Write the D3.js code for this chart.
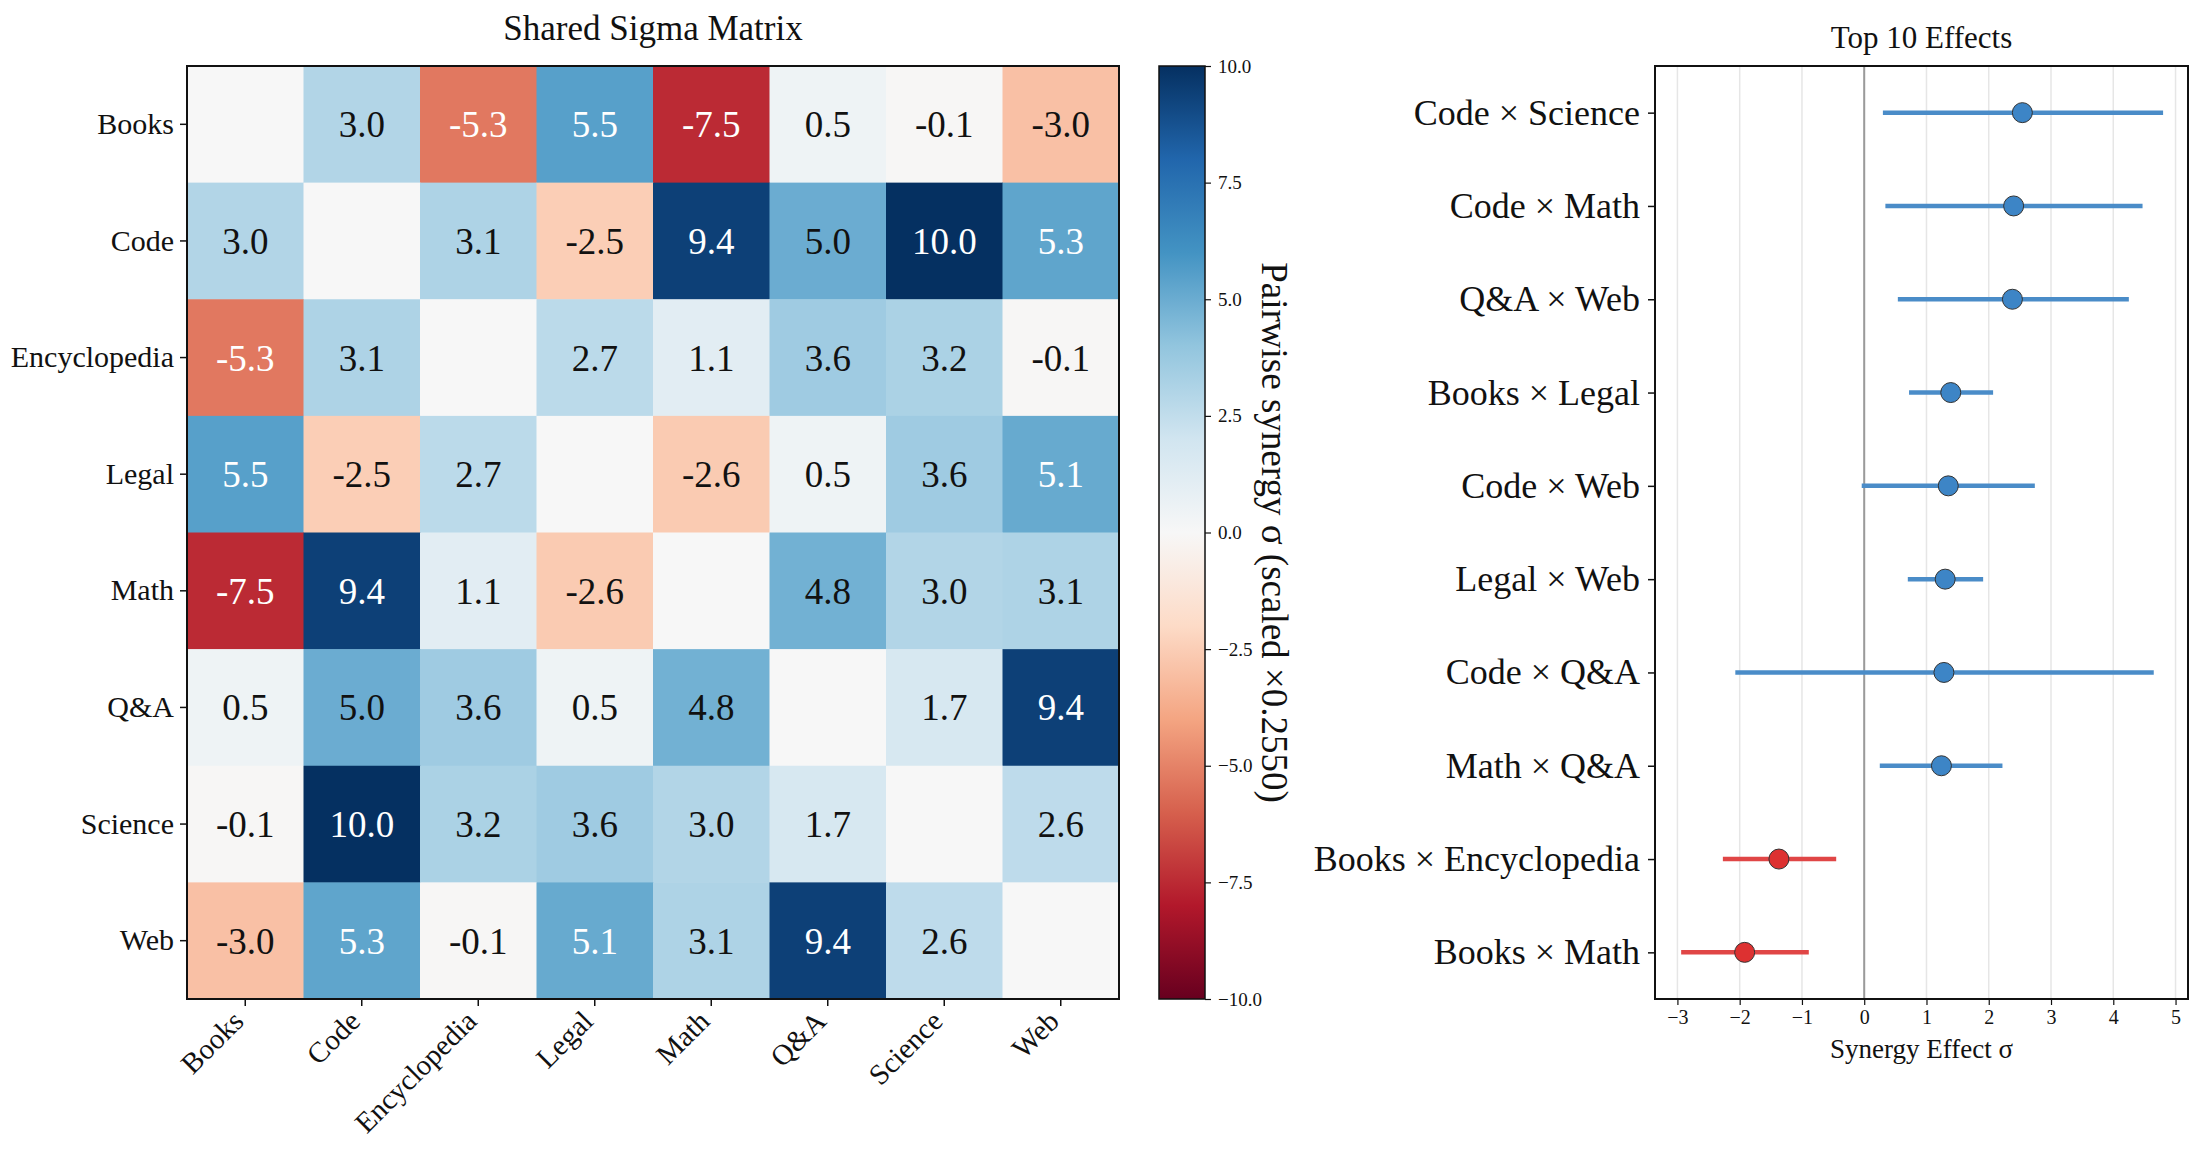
<!DOCTYPE html>
<html>
<head>
<meta charset="utf-8">
<script src="https://cdn.jsdelivr.net/npm/d3@7"></script>
<style>
  body { margin: 0; background: #fff; }
  text { font-family: "Liberation Serif", "DejaVu Serif", serif; fill: #111; }
</style>
</head>
<body>
<svg id="chart" width="2200" height="1158"></svg>
<script>
// data
var categories = ["Books", "Code", "Encyclopedia", "Legal", "Math", "Q&A", "Science", "Web"];
var sigmaRows = [
  [0.0, 3.0, -5.3, 5.5, -7.5, 0.5, -0.1, -3.0],
  [3.0, 0.0, 3.1, -2.5, 9.4, 5.0, 10.0, 5.3],
  [-5.3, 3.1, 0.0, 2.7, 1.1, 3.6, 3.2, -0.1],
  [5.5, -2.5, 2.7, 0.0, -2.6, 0.5, 3.6, 5.1],
  [-7.5, 9.4, 1.1, -2.6, 0.0, 4.8, 3.0, 3.1],
  [0.5, 5.0, 3.6, 0.5, 4.8, 0.0, 1.7, 9.4],
  [-0.1, 10.0, 3.2, 3.6, 3.0, 1.7, 0.0, 2.6],
  [-3.0, 5.3, -0.1, 5.1, 3.1, 9.4, 2.6, 0.0]
];
var colorbarTicks = [-10, -7.5, -5, -2.5, 0, 2.5, 5, 7.5, 10];

var effectLabels = ["Code × Science", "Code × Math", "Q&A × Web", "Books × Legal", "Code × Web",
                    "Legal × Web", "Code × Q&A", "Math × Q&A", "Books × Encyclopedia", "Books × Math"];
var effectMeans = [2.54, 2.40, 2.38, 1.39, 1.35, 1.30, 1.28, 1.24, -1.37, -1.92];
var effectLow   = [0.30, 0.34, 0.54, 0.72, -0.04, 0.70, -2.07, 0.25, -2.27, -2.94];
var effectHigh  = [4.80, 4.47, 4.25, 2.07, 2.74, 1.91, 4.65, 2.22, -0.45, -0.89];
var effectTicks = [-3, -2, -1, 0, 1, 2, 3, 4, 5];

// ColorBrewer RdBu, linearly interpolated like matplotlib
var rdbu = ["#67001f", "#b2182b", "#d6604d", "#f4a582", "#fddbc7", "#f7f7f7",
            "#d1e5f0", "#92c5de", "#4393c3", "#2166ac", "#053061"];

var svg = d3.select("#chart");
var fmtMinus = function(s) { return s.replace("-", "\u2212"); };

// ---------- heatmap ----------
var hm = {left: 187, top: 66, right: 1119, bottom: 999};
var x = d3.scaleBand().domain(categories).range([hm.left, hm.right]);
var y = d3.scaleBand().domain(categories).range([hm.top, hm.bottom]);
var color = d3.scaleLinear()
    .domain(d3.range(rdbu.length).map(function(i) { return -10 + 20 * i / (rdbu.length - 1); }))
    .range(rdbu)
    .interpolate(d3.interpolateRgb)
    .clamp(true);

var cells = [];
sigmaRows.forEach(function(row, i) {
  row.forEach(function(v, j) {
    cells.push({r: categories[i], c: categories[j], v: v, diag: i === j});
  });
});

var g = svg.append("g");
g.selectAll("rect.cell")
    .data(cells)
    .enter().append("rect")
    .attr("class", "cell")
    .attr("x", function(d) { return x(d.c); })
    .attr("y", function(d) { return y(d.r); })
    .attr("width", x.bandwidth() + 0.5)
    .attr("height", y.bandwidth() + 0.5)
    .attr("fill", function(d) { return color(d.v); });

g.selectAll("text.val")
    .data(cells.filter(function(d) { return !d.diag; }))
    .enter().append("text")
    .attr("class", "val")
    .attr("x", function(d) { return x(d.c) + x.bandwidth() / 2; })
    .attr("y", function(d) { return y(d.r) + y.bandwidth() / 2; })
    .attr("text-anchor", "middle")
    .attr("dy", "0.35em")
    .style("font-size", "37px")
    .style("fill", function(d) { return Math.abs(d.v) > 5 ? "#fff" : "#111"; })
    .text(function(d) { return d.v.toFixed(1); });

g.append("rect")
    .attr("x", hm.left).attr("y", hm.top)
    .attr("width", hm.right - hm.left).attr("height", hm.bottom - hm.top)
    .attr("fill", "none").attr("stroke", "#111").attr("stroke-width", 2);

// y axis of heatmap
var yAxis = g.append("g")
    .attr("transform", "translate(" + hm.left + ",0)")
    .call(d3.axisLeft(y).tickSize(7).tickPadding(6));
yAxis.select(".domain").remove();
yAxis.selectAll("line").attr("stroke", "#111").attr("stroke-width", 1.5);
yAxis.selectAll("text").style("font-size", "30px").style("font-family", "Liberation Serif").attr("fill", "#111");

// x axis of heatmap, rotated labels
var xAxis = g.append("g")
    .attr("transform", "translate(0," + hm.bottom + ")")
    .call(d3.axisBottom(x).tickSize(7));
xAxis.select(".domain").remove();
xAxis.selectAll("line").attr("stroke", "#111").attr("stroke-width", 1.5);
xAxis.selectAll("text")
    .style("font-size", "29px").style("font-family", "Liberation Serif").attr("fill", "#111")
    .attr("text-anchor", "end")
    .attr("dy", null)
    .attr("y", null)
    .attr("transform", "translate(0,24) rotate(-45)");

svg.append("text")
    .attr("x", (hm.left + hm.right) / 2)
    .attr("y", 40)
    .attr("text-anchor", "middle")
    .style("font-size", "35px")
    .text("Shared Sigma Matrix");

// ---------- colorbar ----------
var cb = {left: 1159, right: 1205, top: 66, bottom: 999};
var cy = d3.scaleLinear().domain([-10, 10]).range([cb.bottom, cb.top]);
var grad = svg.append("defs").append("linearGradient")
    .attr("id", "cbgrad").attr("x1", 0).attr("y1", 1).attr("x2", 0).attr("y2", 0);
color.domain().forEach(function(v) {
  grad.append("stop").attr("offset", (v + 10) / 20).attr("stop-color", color(v));
});
svg.append("rect")
    .attr("x", cb.left).attr("y", cb.top)
    .attr("width", cb.right - cb.left).attr("height", cb.bottom - cb.top)
    .attr("fill", "url(#cbgrad)")
    .attr("stroke", "#111").attr("stroke-width", 1.5);
var cAxis = svg.append("g")
    .attr("transform", "translate(" + cb.right + ",0)")
    .call(d3.axisRight(cy).tickValues(colorbarTicks).tickSize(6).tickPadding(7)
      .tickFormat(function(d) { return fmtMinus(d3.format(".1f")(d)); }));
cAxis.select(".domain").remove();
cAxis.selectAll("line").attr("stroke", "#111").attr("stroke-width", 1.2);
cAxis.selectAll("text").style("font-size", "19px").style("font-family", "Liberation Serif").attr("fill", "#111");

svg.append("text")
    .attr("transform", "translate(1262," + (cb.top + cb.bottom) / 2 + ") rotate(90)")
    .attr("text-anchor", "middle")
    .style("font-size", "37px")
    .text("Pairwise synergy σ (scaled ×0.2550)");

// ---------- effects panel ----------
var fp = {left: 1655, right: 2188, top: 66, bottom: 999};
var ex = d3.scaleLinear().domain([-3.36, 5.2]).range([fp.left, fp.right]);
var ey = d3.scalePoint().domain(effectLabels).range([fp.top, fp.bottom]).padding(0.5);

var fg = svg.append("g");
fg.selectAll("line.grid")
    .data(effectTicks)
    .enter().append("line")
    .attr("class", "grid")
    .attr("x1", function(d) { return ex(d); }).attr("x2", function(d) { return ex(d); })
    .attr("y1", fp.top).attr("y2", fp.bottom)
    .attr("stroke", "#e6e6e6").attr("stroke-width", 1.5);
fg.append("line")
    .attr("x1", ex(0)).attr("x2", ex(0))
    .attr("y1", fp.top).attr("y2", fp.bottom)
    .attr("stroke", "#9a9a9a").attr("stroke-width", 2);

var effects = effectLabels.map(function(l, i) {
  return {label: l, mean: effectMeans[i], lo: effectLow[i], hi: effectHigh[i]};
});
fg.selectAll("line.err")
    .data(effects)
    .enter().append("line")
    .attr("class", "err")
    .attr("x1", function(d) { return ex(d.lo); })
    .attr("x2", function(d) { return ex(d.hi); })
    .attr("y1", function(d) { return ey(d.label); })
    .attr("y2", function(d) { return ey(d.label); })
    .attr("stroke", function(d) { return d.mean > 0 ? "#4a8cc8" : "#e04646"; })
    .attr("stroke-width", 4.5);
fg.selectAll("circle.pt")
    .data(effects)
    .enter().append("circle")
    .attr("class", "pt")
    .attr("cx", function(d) { return ex(d.mean); })
    .attr("cy", function(d) { return ey(d.label); })
    .attr("r", 10)
    .attr("fill", function(d) { return d.mean > 0 ? "#3d85c6" : "#dd3131"; })
    .attr("stroke", "#333").attr("stroke-width", 1);

fg.append("rect")
    .attr("x", fp.left).attr("y", fp.top)
    .attr("width", fp.right - fp.left).attr("height", fp.bottom - fp.top)
    .attr("fill", "none").attr("stroke", "#111").attr("stroke-width", 2);

var eyAxis = fg.append("g")
    .attr("transform", "translate(" + fp.left + ",0)")
    .call(d3.axisLeft(ey).tickSize(7).tickPadding(8));
eyAxis.select(".domain").remove();
eyAxis.selectAll("line").attr("stroke", "#111").attr("stroke-width", 1.5);
eyAxis.selectAll("text").style("font-size", "36px").style("font-family", "Liberation Serif").attr("fill", "#111");

var exAxis = fg.append("g")
    .attr("transform", "translate(0," + fp.bottom + ")")
    .call(d3.axisBottom(ex).tickValues(effectTicks).tickSize(6).tickPadding(5)
      .tickFormat(function(d) { return fmtMinus(String(d)); }));
exAxis.select(".domain").remove();
exAxis.selectAll("line").attr("stroke", "#111").attr("stroke-width", 1.2);
exAxis.selectAll("text").style("font-size", "20px").style("font-family", "Liberation Serif").attr("fill", "#111");

svg.append("text")
    .attr("x", (fp.left + fp.right) / 2)
    .attr("y", 1058)
    .attr("text-anchor", "middle")
    .style("font-size", "27px")
    .text("Synergy Effect σ");

svg.append("text")
    .attr("x", (fp.left + fp.right) / 2)
    .attr("y", 48)
    .attr("text-anchor", "middle")
    .style("font-size", "31px")
    .text("Top 10 Effects");
</script>
</body>
</html>
